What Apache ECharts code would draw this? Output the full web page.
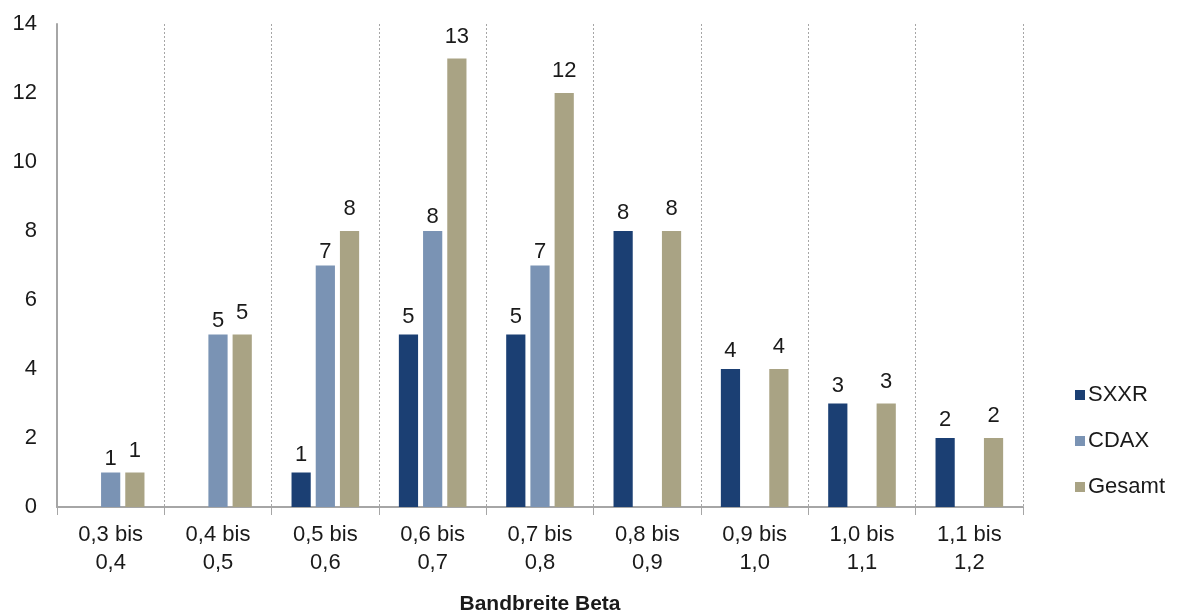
<!DOCTYPE html>
<html>
<head>
<meta charset="utf-8">
<script src="https://cdn.jsdelivr.net/npm/echarts@6/dist/echarts.min.js"></script>
<style>
  html, body { margin: 0; padding: 0; background: #fff; }
  #chart { width: 1180px; height: 615px; }
</style>
</head>
<body>
<div id="chart"></div>
<script>
const categories = ["0,3 bis\n0,4", "0,4 bis\n0,5", "0,5 bis\n0,6", "0,6 bis\n0,7", "0,7 bis\n0,8", "0,8 bis\n0,9", "0,9 bis\n1,0", "1,0 bis\n1,1", "1,1 bis\n1,2"];
const sxxr = [null, null, 1, 5, 5, 8, 4, 3, 2];
const cdax = [1, 5, 7, 8, 7, null, null, null, null];
const gesamt = [1, 5, 8, 13, 12, 8, 4, 3, 2];

const chart = echarts.init(document.getElementById("chart"));
const fontFamily = "Arial, 'Liberation Sans', sans-serif";

// Excel legt die Werte je Reihe unterschiedlich hoch über die Balken
function barLabel(distance) {
  return {
    show: true,
    position: "top",
    distance: distance,
    color: "#1a1a1a",
    fontSize: 22,
    fontFamily: fontFamily,
  };
}

chart.setOption({
  animation: false,
  textStyle: { fontFamily: fontFamily },
  grid: { left: 57, right: 157, top: 24, bottom: 108, outerBoundsMode: "none", containLabel: false },
  legend: {
    orient: "vertical",
    left: 1070,
    top: 379,
    itemWidth: 10,
    itemHeight: 10,
    itemGap: 24,
    icon: "rect",
    textStyle: { fontSize: 22, color: "#1a1a1a", padding: [0, 0, 0, -2] },
    data: ["SXXR", "CDAX", "Gesamt"],
  },
  xAxis: {
    type: "category",
    data: categories,
    name: "Bandbreite Beta",
    nameLocation: "middle",
    nameGap: 87,
    nameTextStyle: { fontSize: 21, fontWeight: "bold", color: "#1a1a1a" },
    axisLine: { lineStyle: { color: "#a6a6a6", width: 2 } },
    axisTick: { show: true, length: 8, interval: 0, lineStyle: { color: "#a6a6a6", width: 1 } },
    axisLabel: { fontSize: 22, color: "#1a1a1a", margin: 14, lineHeight: 28, interval: 0 },
    splitLine: { show: true, interval: 0, lineStyle: { color: "#a6a6a6", type: [2, 2], width: 1 } },
  },
  yAxis: {
    type: "value",
    min: 0,
    max: 14,
    interval: 2,
    axisLine: { show: true, lineStyle: { color: "#a6a6a6", width: 2 } },
    axisTick: { show: false },
    axisLabel: { fontSize: 22, color: "#1a1a1a", margin: 20 },
    splitLine: { show: false },
  },
  series: [
    {
      name: "SXXR",
      type: "bar",
      data: sxxr,
      barGap: "26%",
      barCategoryGap: "37%",
      itemStyle: { color: "#1b3f73" },
      label: barLabel(7),
    },
    {
      name: "CDAX",
      type: "bar",
      data: cdax,
      barGap: "26%",
      barCategoryGap: "37%",
      itemStyle: { color: "#7a93b4" },
      label: barLabel(3),
    },
    {
      name: "Gesamt",
      type: "bar",
      data: gesamt,
      barGap: "26%",
      barCategoryGap: "37%",
      itemStyle: { color: "#a9a384" },
      label: barLabel(11),
    },
  ],
});
</script>
</body>
</html>
